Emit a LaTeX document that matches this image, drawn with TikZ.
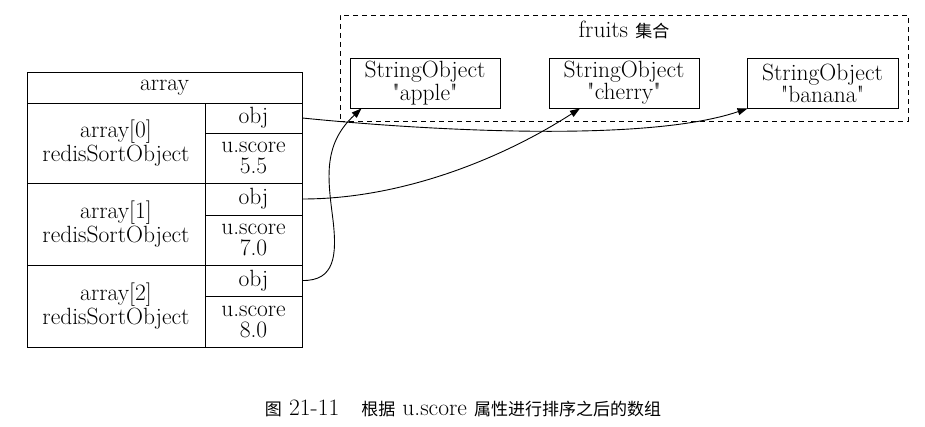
\documentclass[tikz,border=0pt]{standalone}
\usepackage{fontspec}
\newfontfamily\lmplain{Latin Modern Roman}
\newfontfamily\cjk{Noto Sans CJK SC}
\usetikzlibrary{arrows.meta,calc}
\begin{document}
\begin{tikzpicture}[x=1pt,y=-1pt,
  every node/.style={font=\lmplain\fontsize{23.5}{21}\selectfont, align=center, inner sep=0pt},
  cell/.style={draw, line width=0.9pt, rectangle},
  strobj/.style={draw, line width=0.9pt, rectangle, minimum width=150pt, minimum height=50pt},
  cluster/.style={draw, dashed, dash pattern=on 5pt off 4pt, line width=0.9pt, rectangle},
  link/.style={line width=0.9pt, -{Triangle[length=10pt,width=7pt]}},
  captext/.style={font=\lmplain\fontsize{23.5}{21}\selectfont}
]
\useasboundingbox (0,0) rectangle (925,427);

% table
\node[cell, minimum width=275pt, minimum height=31pt] (head) at (164.5,87.5) {array};
\node[cell, minimum width=178pt, minimum height=80pt] (r0) at (116,143) {array[0]\\redisSortObject};
\node[cell, minimum width=97pt, minimum height=30pt] (r0obj) at (253.5,118) {obj};
\node[cell, minimum width=97pt, minimum height=50pt] (r0sc) at (253.5,158) {u.score\\5.5};
\node[cell, minimum width=178pt, minimum height=82pt] (r1) at (116,224) {array[1]\\redisSortObject};
\node[cell, minimum width=97pt, minimum height=32pt] (r1obj) at (253.5,199) {obj};
\node[cell, minimum width=97pt, minimum height=50pt] (r1sc) at (253.5,240) {u.score\\7.0};
\node[cell, minimum width=178pt, minimum height=82pt] (r2) at (116,306) {array[2]\\redisSortObject};
\node[cell, minimum width=97pt, minimum height=31pt] (r2obj) at (253.5,280.5) {obj};
\node[cell, minimum width=97pt, minimum height=51pt] (r2sc) at (253.5,321.5) {u.score\\8.0};

% cluster
\node[cluster, minimum width=568pt, minimum height=106pt] (fruits) at (624,68) {};
\node (fruitslabel) at (624,30) {fruits {\cjk\fontsize{17}{19}\selectfont 集合}};

\node[strobj] (apple) at (425,83) {StringObject\\ "apple"};
\node[strobj] (cherry) at (624,83) {StringObject\\ "cherry"};
\node[strobj, minimum width=151pt] (banana) at (822.5,83) {StringObject\\ "banana"};

% links
\draw[link] (r0obj.east) .. controls (400,128) and (640,145) .. ($(banana.south west)+(1,0)$);
\draw[link] (r1obj.east) .. controls (400,199) and (500,160) .. ($(cherry.south)+(-44,0)$);
\coordinate (bend) at (333,220);
\draw[link] (r2obj.east) .. controls (335,281) and (337,255) .. (bend)
  .. controls (328,180) and (322,145) .. ($(apple.south west)+(12,0)$);

% caption
\node[captext] (caption) at (463,408) {{\cjk\fontsize{17}{19}\selectfont 图} 21-11\hspace{22pt}{\cjk\fontsize{17}{19}\selectfont 根据} u.score {\cjk\fontsize{17}{19}\selectfont 属性进行排序之后的数组}};
\end{tikzpicture}
\end{document}
